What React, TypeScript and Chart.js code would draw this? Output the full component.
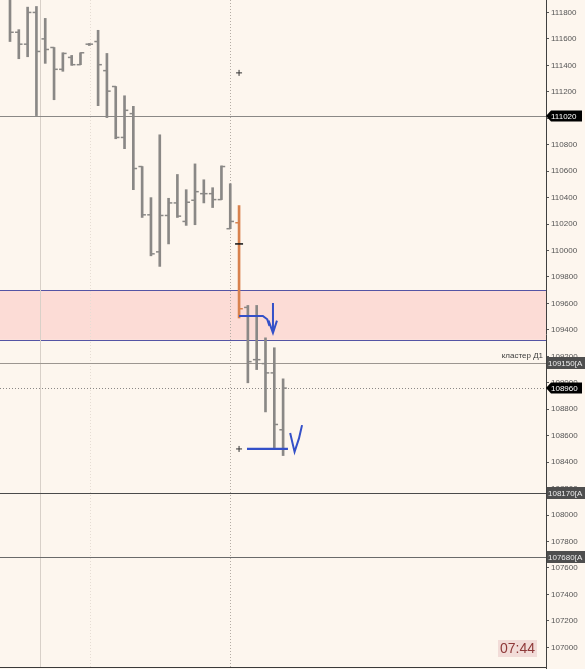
import React, { useEffect, useRef } from 'react';
import { Chart, registerables } from 'chart.js';
Chart.register(...registerables);

// OHLC bars (price)
const opens = [111900, 111650, 111560, 111800, 111600, 111535, 111370, 111460, 111405, 111560, 111580, 111360, 111240, 110855, 111035, 110635, 110270, 109990, 110265, 110360, 110220, 110380, 110430, 110430, 110385, 110165, 110210, 109570, 109175, 109145, 109075, 108645];
const highs = [111900, 111670, 111840, 111845, 111755, 111535, 111495, 111475, 111495, 111565, 111665, 111490, 111240, 111170, 111090, 110635, 110400, 110875, 110395, 110575, 110460, 110655, 110535, 110475, 110640, 110505, 110340, 109585, 109585, 109340, 109265, 109030];
const lows = [111580, 111450, 111465, 111020, 111415, 111140, 111355, 111400, 111405, 111550, 111095, 111005, 110845, 110770, 110460, 110250, 109960, 109880, 110050, 110250, 110190, 110195, 110360, 110325, 110385, 110165, 109490, 109000, 109100, 108780, 108510, 108450];
const closes = [111650, 111560, 111800, 111505, 111520, 111370, 111490, 111405, 111495, 111560, 111405, 111205, 110855, 111060, 110620, 110270, 109975, 110265, 110360, 110260, 110365, 110445, 110430, 110385, 110635, 110220, 109560, 109160, 109175, 109075, 108685, 108960];
const highlightBar = 26;

// price axis
const tickValues = [107000, 107200, 107400, 107600, 107800, 108000, 108200, 108400, 108600, 108800, 109000, 109200, 109400, 109600, 109800, 110000, 110200, 110400, 110600, 110800, 111000, 111200, 111400, 111600, 111800];
const yMin = 106844;
const yMax = 111894;
const xMin = -1.135;
const xMax = 60.84;

// levels
const zoneTop = 109700;
const zoneBottom = 109325;
const levelMain = 111020;
const levelCluster = 109150;
const levelLast = 108960;
const levelLow1 = 108170;
const levelLow2 = 107680;
const clusterLabel = 'кластер Д1';
const timeLabel = '07:44';
const separators = [3.4, 9.1, 25];

// hand-drawn marks
const arrowStroke = [{ x: 26, y: 109505 }, { x: 28.7, y: 109505 }, { x: 29.2, y: 109480 }, { x: 29.45, y: 109430 }];
const arrowShaft = [{ x: 29.85, y: 109604 }, { x: 29.85, y: 109377 }];
const arrowHead = [{ x: 29.35, y: 109470 }, { x: 29.85, y: 109377 }, { x: 30.3, y: 109470 }];
const bottomStroke = [{ x: 26.9, y: 108500 }, { x: 31.55, y: 108500 }];
const checkStroke = [{ x: 31.8, y: 108620 }, { x: 32.3, y: 108478 }, { x: 32.8, y: 108580 }, { x: 33.15, y: 108680 }];
const plusMarks = [{ x: 26, y: 111343 }, { x: 26, y: 108500 }];
const dashMarks = [{ x: 26, y: 110050 }];

const BG = '#fdf6ee';
const GREY = '#8a8886';
const ORANGE = '#d8824e';
const BLUE = '#3450c8';

const overlay = {
  id: 'overlay',
  beforeDraw(chart: any) {
    const { ctx, width, height } = chart;
    ctx.save();
    ctx.fillStyle = BG;
    ctx.fillRect(0, 0, width, height);
    ctx.restore();
  },
  beforeDatasetsDraw(chart: any) {
    const { ctx, chartArea, scales } = chart;
    const { left, right, top, bottom } = chartArea;
    const x = scales.x, y = scales.y;
    ctx.save();
    // zone
    const zt = y.getPixelForValue(zoneTop), zb = y.getPixelForValue(zoneBottom);
    ctx.fillStyle = '#fcdcd6';
    ctx.fillRect(left, zt, right - left, zb - zt);
    ctx.strokeStyle = '#5454a4';
    ctx.lineWidth = 1;
    [zt, zb].forEach((p) => {
      ctx.beginPath();
      ctx.moveTo(left, Math.round(p) + 0.5);
      ctx.lineTo(right, Math.round(p) + 0.5);
      ctx.stroke();
    });
    // separators
    separators.forEach((s, i) => {
      const px = Math.round(x.getPixelForValue(s)) + 0.5;
      ctx.beginPath();
      if (i === 0) { ctx.setLineDash([]); ctx.strokeStyle = '#d8d0c8'; }
      else if (i === 1) { ctx.setLineDash([1, 2]); ctx.strokeStyle = '#e6ddd4'; }
      else { ctx.setLineDash([1, 2]); ctx.strokeStyle = '#b4aca4'; }
      ctx.moveTo(px, top);
      ctx.lineTo(px, bottom);
      ctx.stroke();
    });
    ctx.setLineDash([]);
    const hline = (v: number, color: string, dash: number[] = []) => {
      const p = Math.round(y.getPixelForValue(v)) + 0.5;
      ctx.strokeStyle = color;
      ctx.setLineDash(dash);
      ctx.beginPath();
      ctx.moveTo(left, p);
      ctx.lineTo(right, p);
      ctx.stroke();
    };
    hline(levelMain, '#8a8886');
    hline(levelCluster, '#9c9690');
    hline(levelLast, '#8a8886', [1, 2]);
    hline(levelLow1, '#4a4a4a');
    hline(levelLow2, '#6a6a6a');
    ctx.setLineDash([]);
    ctx.restore();
  },
  afterDraw(chart: any) {
    const { ctx, chartArea, scales } = chart;
    const { left, right, bottom } = chartArea;
    const y = scales.y;
    ctx.save();
    // bottom line
    ctx.strokeStyle = '#3a3a3a';
    ctx.beginPath();
    ctx.moveTo(left, Math.round(bottom) - 0.5);
    ctx.lineTo(right, Math.round(bottom) - 0.5);
    ctx.stroke();
    ctx.font = '8px "Liberation Sans", Arial, sans-serif';
    ctx.textBaseline = 'middle';
    const pointerTag = (v: number) => {
      const p = Math.round(y.getPixelForValue(v));
      ctx.fillStyle = '#000';
      ctx.beginPath();
      ctx.moveTo(right, p);
      ctx.lineTo(right + 5, p - 5.5);
      ctx.lineTo(right + 36, p - 5.5);
      ctx.lineTo(right + 36, p + 5.5);
      ctx.lineTo(right + 5, p + 5.5);
      ctx.closePath();
      ctx.fill();
      ctx.fillStyle = '#fff';
      ctx.textAlign = 'left';
      ctx.fillText(String(v), right + 5, p + 0.5);
    };
    const boxTag = (v: number) => {
      const p = Math.round(y.getPixelForValue(v));
      ctx.fillStyle = '#4e4e4e';
      ctx.fillRect(right + 1, p - 6, 39, 12);
      ctx.fillStyle = '#ececec';
      ctx.textAlign = 'left';
      ctx.fillText(String(v) + '[A', right + 2, p + 0.5);
    };
    pointerTag(levelMain);
    boxTag(levelCluster);
    pointerTag(levelLast);
    boxTag(levelLow1);
    boxTag(levelLow2);
    // cluster label
    ctx.fillStyle = '#3a3a3a';
    ctx.textAlign = 'right';
    ctx.fillText(clusterLabel, right - 3, y.getPixelForValue(levelCluster) - 7);
    // time box
    ctx.fillStyle = '#f2dcd8';
    ctx.fillRect(498, 640, 39, 17);
    ctx.fillStyle = '#8e3838';
    ctx.font = '14px "Liberation Sans", Arial, sans-serif';
    ctx.textAlign = 'center';
    ctx.fillText(timeLabel, 517.5, 649);
    ctx.restore();
  },
};

export default function App() {
  const ref = useRef<HTMLCanvasElement>(null);
  useEffect(() => {
    if (!ref.current) return;
    const barColors = highs.map((_, i) => (i === highlightBar ? ORANGE : GREY));
    const blueLine = (data: any[], width = 2) => ({
      type: 'line', data, borderColor: BLUE, borderWidth: width, pointRadius: 0, fill: false,
      tension: 0, order: 1,
    });
    const chart = new Chart(ref.current, {
      type: 'bar',
      data: {
        datasets: [
          { type: 'scatter', data: plusMarks, pointStyle: 'cross', radius: 3, borderColor: '#333', borderWidth: 1, order: 0 },
          { type: 'scatter', data: dashMarks, pointStyle: 'line', radius: 4, borderColor: '#111', borderWidth: 1.5, order: 0 },
          blueLine(arrowStroke),
          blueLine(arrowShaft),
          blueLine(arrowHead),
          blueLine(bottomStroke, 2.2),
          blueLine(checkStroke),
          { type: 'scatter', data: opens.map((o, i) => ({ x: i - 0.2, y: o })), pointStyle: 'line', radius: 2, borderWidth: 1.5, borderColor: barColors, backgroundColor: barColors, order: 2 },
          { type: 'scatter', data: closes.map((c, i) => ({ x: i + 0.2, y: c })), pointStyle: 'line', radius: 2, borderWidth: 1.5, borderColor: barColors, backgroundColor: barColors, order: 2 },
          { type: 'bar', data: highs.map((h, i) => ({ x: i, y: [lows[i], h] })), backgroundColor: barColors, barThickness: 2, grouped: false, borderWidth: 0, order: 3 },
        ] as any,
      },
      options: {
        animation: false,
        responsive: false,
        devicePixelRatio: 1,
        layout: { autoPadding: false, padding: { left: 0, right: 0, top: 0, bottom: 1 } },
        plugins: { legend: { display: false }, tooltip: { enabled: false } },
        scales: {
          x: { type: 'linear', display: false, min: xMin, max: xMax, offset: false },
          y: {
            type: 'linear', position: 'right', min: yMin, max: yMax,
            afterBuildTicks: (s: any) => { s.ticks = tickValues.map((v) => ({ value: v })); },
            afterFit: (s: any) => { s.width = 39; s.paddingTop = 0; s.paddingBottom = 0; },
            grid: { drawOnChartArea: false, drawTicks: true, tickLength: 3, color: '#555' },
            border: { display: true, color: '#404040', width: 1 },
            ticks: { color: '#555', padding: 2, font: { family: '"Liberation Sans", Arial, sans-serif', size: 8 }, callback: (v: any) => String(v), autoSkip: false },
          },
        },
      } as any,
      plugins: [overlay],
    });
    return () => chart.destroy();
  }, []);
  return (
    <div style={{ position: 'absolute', left: 0, top: 0, width: 585, height: 669 }}>
      <canvas ref={ref} width={585} height={669} style={{ display: 'block' }} />
    </div>
  );
}
